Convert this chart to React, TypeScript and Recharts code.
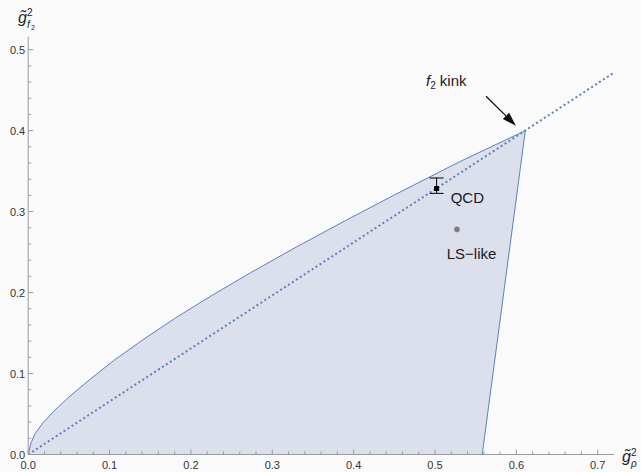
import React from 'react';
import {
  ComposedChart, Area, Line, Scatter, ErrorBar, XAxis, YAxis, ReferenceDot, ReferenceLine,
} from 'recharts';

// allowed-region boundary: upper curve up to the kink, then straight down to the axis
const boundaryX = [0, 0.003, 0.008, 0.018, 0.032, 0.05, 0.075, 0.105, 0.14, 0.18, 0.225, 0.275, 0.33, 0.39, 0.45, 0.53, 0.611, 0.558];
const boundaryY = [0, 0.013, 0.025, 0.039, 0.054, 0.071, 0.092, 0.116, 0.141, 0.168, 0.196, 0.2255, 0.2565, 0.289, 0.3205, 0.3615, 0.4, 0];

// dotted line through the origin and the kink
const diagX = [0, 0.72];
const diagY = [0, 0.4716];

// QCD estimate with its asymmetric error, and the LS-like point
const qcdPoint = { x: 0.502, y: 0.3285, err: [0.006, 0.013] };
const lsPoint = { x: 0.527, y: 0.278 };

const xTicks = [0, 0.02, 0.04, 0.06, 0.08, 0.1, 0.12, 0.14, 0.16, 0.18, 0.2, 0.22, 0.24, 0.26, 0.28, 0.3, 0.32, 0.34, 0.36, 0.38, 0.4, 0.42, 0.44, 0.46, 0.48, 0.5, 0.52, 0.54, 0.56, 0.58, 0.6, 0.62, 0.64, 0.66, 0.68, 0.7];
const yTicks = [0, 0.02, 0.04, 0.06, 0.08, 0.1, 0.12, 0.14, 0.16, 0.18, 0.2, 0.22, 0.24, 0.26, 0.28, 0.3, 0.32, 0.34, 0.36, 0.38, 0.4, 0.42, 0.44, 0.46, 0.48, 0.5];

const boundary = boundaryX.map((x, i) => ({ x, y: boundaryY[i] }));
const diagonal = diagX.map((x, i) => ({ x, y: diagY[i] }));

const BLUE = '#5d80bb';
const AXIS = '#9a9a9a';
const FONT = '"Liberation Sans", Arial, sans-serif';

const isMajor = (v: number) => Math.abs(v * 10 - Math.round(v * 10)) < 1e-6;

const XTick = (props: any) => {
  const { x, y, payload } = props;
  const major = isMajor(payload.value);
  return (
    <g>
      <line x1={x} x2={x} y1={y} y2={y - (major ? 5 : 3)} stroke={AXIS} />
      {major && (
        <text x={x} y={y + 14.5} textAnchor="middle" fontSize={11} fill="#333" fontFamily={FONT}>
          {payload.value.toFixed(1)}
        </text>
      )}
    </g>
  );
};

const YTick = (props: any) => {
  const { x, y, payload } = props;
  const major = isMajor(payload.value);
  return (
    <g>
      <line x1={x} x2={x + (major ? 5 : 3)} y1={y} y2={y} stroke={AXIS} />
      {major && (
        <text x={x - 3} y={y + 4} textAnchor="end" fontSize={11} fill="#333" fontFamily={FONT}>
          {payload.value.toFixed(1)}
        </text>
      )}
    </g>
  );
};

const XTitle = (props: any) => {
  const vb = props.viewBox;
  const x0 = vb.x + vb.width + 8;
  const y0 = vb.y + 7;
  return (
    <g fontFamily={FONT} fill="#222">
      <text x={x0} y={y0} fontSize={16} fontStyle="italic">g&#x0303;</text>
      <text x={x0 + 9} y={y0 - 6} fontSize={10}>2</text>
      <text x={x0 + 9} y={y0 + 5} fontSize={10} fontStyle="italic">ρ</text>
    </g>
  );
};

const YTitle = (props: any) => {
  const vb = props.viewBox;
  const x0 = vb.x + 18;
  const y0 = vb.y - 14;
  return (
    <g fontFamily={FONT} fill="#222">
      <text x={x0} y={y0} fontSize={16} fontStyle="italic">g&#x0303;</text>
      <text x={x0 + 9} y={y0 - 7} fontSize={10}>2</text>
      <text x={x0 + 9} y={y0 + 5} fontSize={10} fontStyle="italic">f</text>
      <text x={x0 + 13} y={y0 + 7} fontSize={7}>2</text>
    </g>
  );
};

// arrow pointing at the kink
const Arrow = (props: any) => {
  const { x1, y1, x2, y2 } = props;
  const dx = x2 - x1;
  const dy = y2 - y1;
  const len = Math.hypot(dx, dy);
  const ux = dx / len;
  const uy = dy / len;
  const hl = 14;
  const hw = 4.5;
  const bx = x2 - ux * hl;
  const by = y2 - uy * hl;
  return (
    <g>
      <line x1={x1} y1={y1} x2={bx} y2={by} stroke="#111" strokeWidth={1.3} />
      <polygon
        points={`${x2},${y2} ${bx - uy * hw},${by + ux * hw} ${bx + uy * hw},${by - ux * hw}`}
        fill="#111"
      />
    </g>
  );
};

const TextAt = (content: React.ReactNode) => (props: any) => (
  <text x={props.cx} y={props.cy} fontSize={15} fill="#1a1a1a" fontFamily={FONT}>
    {content}
  </text>
);

export default function App() {
  return (
    <div style={{ position: 'absolute', left: 0, top: 0, width: 641, height: 472, background: '#fafafa' }}>
      <ComposedChart
        width={641}
        height={472}
        data={boundary}
        margin={{ top: 36.7, right: 27, bottom: 0, left: 0 }}
      >
        <XAxis
          type="number"
          dataKey="x"
          domain={[0, 0.72]}
          allowDataOverflow
          ticks={xTicks}
          interval={0}
          height={17.5}
          tickSize={0}
          tickMargin={0}
          tickLine={false}
          axisLine={{ stroke: AXIS }}
          tick={<XTick />}
          label={<XTitle />}
        />
        <YAxis
          type="number"
          dataKey="y"
          domain={[0, 0.516]}
          allowDataOverflow
          ticks={yTicks}
          interval={0}
          width={28.2}
          tickSize={0}
          tickMargin={0}
          tickLine={false}
          axisLine={{ stroke: AXIS }}
          tick={<YTick />}
          label={<YTitle />}
        />
        <Area
          type="linear"
          dataKey="y"
          stroke={BLUE}
          strokeWidth={1}
          fill="#dbe0ec"
          fillOpacity={1}
          isAnimationActive={false}
          activeDot={false}
        />
        <Line
          data={diagonal}
          type="linear"
          dataKey="y"
          stroke={BLUE}
          strokeWidth={2}
          strokeDasharray="2 2.7"
          dot={false}
          activeDot={false}
          isAnimationActive={false}
        />
        <Scatter
          data={[lsPoint]}
          dataKey="y"
          fill="#808080"
          shape={(p: any) => <circle cx={p.cx} cy={p.cy} r={2.8} fill="#808080" />}
          isAnimationActive={false}
        />
        <Scatter
          data={[qcdPoint]}
          dataKey="y"
          fill="#000"
          shape={(p: any) => <rect x={p.cx - 2.5} y={p.cy - 2.5} width={5} height={5} fill="#000" />}
          isAnimationActive={false}
        >
          <ErrorBar dataKey="err" direction="y" width={7} stroke="#000" strokeWidth={1} />
        </Scatter>
        <ReferenceLine
          segment={[{ x: 0.5627, y: 0.4424 }, { x: 0.5995, y: 0.4061 }]}
          shape={<Arrow />}
          ifOverflow="visible"
        />
        <ReferenceDot x={0.5193} y={0.3104} ifOverflow="visible" shape={TextAt('QCD')} />
        <ReferenceDot x={0.5144} y={0.2409} ifOverflow="visible" shape={TextAt('LS\u2212like')} />
        <ReferenceDot
          x={0.4889}
          y={0.4547}
          ifOverflow="visible"
          shape={TextAt(
            <>
              <tspan fontStyle="italic">f</tspan>
              <tspan fontSize={10} dy={3}>2</tspan>
              <tspan dy={-3}>{'\u00a0kink'}</tspan>
            </>
          )}
        />
      </ComposedChart>
    </div>
  );
}
